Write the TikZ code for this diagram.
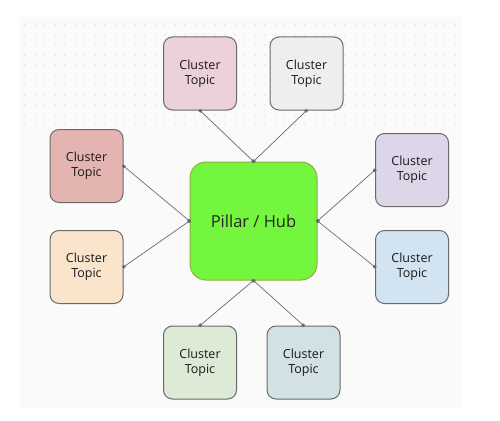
\documentclass[tikz,border=0pt]{standalone}
\usepackage{fontspec}
\setmainfont{Open Sans}
\usepackage{tikz}
\usetikzlibrary{
	arrows.meta,
	calc,
	positioning,
}
\definecolor{linkgray}{HTML}{6A6A6A}
\definecolor{boxgray}{HTML}{6A6A6A}
\definecolor{hubgreen}{HTML}{74F53E}
\definecolor{hubedge}{HTML}{8CB23A}
\definecolor{panel}{HTML}{FAFAFA}
\definecolor{dotgray}{HTML}{E3E3E3}
\tikzset{cluster node/.style={
	draw=boxgray,
	rounded corners=9pt,
	minimum width=73pt,
	minimum height=73pt,
	inner sep=0pt,
	align=center,
	line width=1pt,
	font=\fontsize{12.5}{15}\selectfont,
	text=black!90,
}}
\tikzset{hub node/.style={
	draw=hubedge,
	fill=hubgreen,
	rounded corners=16pt,
	minimum width=127pt,
	minimum height=118pt,
	inner sep=0pt,
	line width=1pt,
	font=\fontsize{16.5}{20}\selectfont,
	text=black!85,
}}
\tikzset{link/.style={
	draw=linkgray,
	line width=0.7pt,
	{Square[length=2.8pt,width=2.8pt]}-{Square[length=2.8pt,width=2.8pt]},
	shorten <=-1pt,
	shorten >=-1pt,
}}

\begin{document}
\begin{tikzpicture}[x=1pt,y=-1pt]

\useasboundingbox (0,0) rectangle (500,420);

% background panel and dots
\fill[panel] (20,17) rectangle (462,408);
\foreach \dx in {25,35,...,455}
	\foreach \dy in {25,35,...,125}
		\fill[dotgray] (\dx,\dy) circle (0.8pt);

\node[hub node](hub) at (253.5,221) {Pillar / Hub};

\node[cluster node, fill={rgb,255:red,236;green,208;blue,220}](ctl) at (200,73.5) {Cluster\\Topic};
\node[cluster node, fill={rgb,255:red,238;green,238;blue,238}](ctr) at (306.5,73.5) {Cluster\\Topic};

\node[cluster node, fill={rgb,255:red,228;green,181;blue,176}](clu) at (86.5,166) {Cluster\\Topic};
\node[cluster node, fill={rgb,255:red,251;green,228;blue,204}](cll) at (86.5,267) {Cluster\\Topic};

\node[cluster node, fill={rgb,255:red,221;green,213;blue,232}](cru) at (412,170) {Cluster\\Topic};
\node[cluster node, fill={rgb,255:red,210;green,227;blue,241}](crl) at (412,267) {Cluster\\Topic};

\node[cluster node, fill={rgb,255:red,221;green,234;blue,213}](cbl) at (200,362.5) {Cluster\\Topic};
\node[cluster node, fill={rgb,255:red,210;green,225;blue,227}](cbr) at (303.5,362.5) {Cluster\\Topic};

% hub -> top
\draw[link] (hub.north) -- (ctl.south);
\draw[link] (hub.north) -- (ctr.south);

% hub -> left
\draw[link] (hub.west) -- (clu.east);
\draw[link] (hub.west) -- (cll.east);

% hub -> right
\draw[link] (hub.east) -- (cru.west);
\draw[link] (hub.east) -- (crl.west);

% hub -> bottom
\draw[link] (hub.south) -- (cbl.north);
\draw[link] (hub.south) -- (cbr.north);

\end{tikzpicture}
\end{document}
